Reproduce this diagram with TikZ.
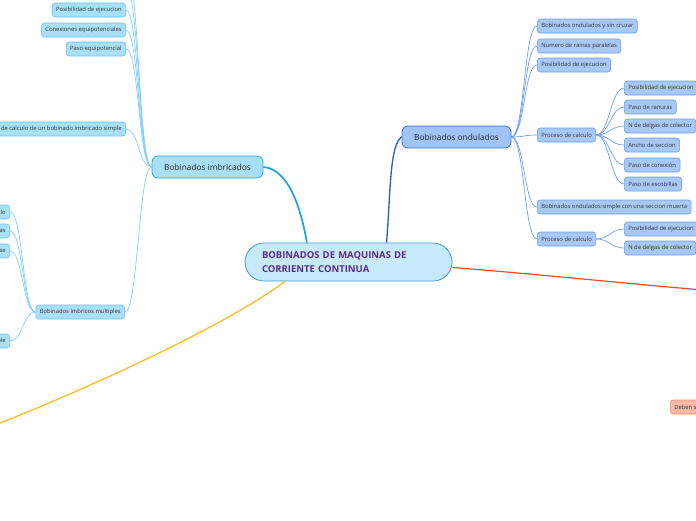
\documentclass[tikz,border=0pt]{standalone}
\usepackage{fontspec}
\setmainfont{Open Sans}
\usepackage{xcolor}
\definecolor{rootFill}{RGB}{198,234,250}
\definecolor{rootDraw}{RGB}{70,150,210}
\definecolor{rootText}{RGB}{92,44,134}
\definecolor{imbFill}{RGB}{169,222,247}
\definecolor{imbDraw}{RGB}{47,168,232}
\definecolor{imbLeaf}{RGB}{168,224,248}
\definecolor{imbLine}{RGB}{130,208,245}
\definecolor{ondFill}{RGB}{160,196,245}
\definecolor{ondDraw}{RGB}{52,117,220}
\definecolor{ondLeaf}{RGB}{168,200,247}
\definecolor{ondLine}{RGB}{110,159,234}
\definecolor{ondMain}{RGB}{30,95,200}
\definecolor{imbMain}{RGB}{28,160,228}
\definecolor{redLine}{RGB}{232,80,30}
\definecolor{yellowLine}{RGB}{253,184,19}
\definecolor{salmonFill}{RGB}{249,185,162}
\definecolor{salmonDraw}{RGB}{238,139,108}

\begin{document}
\begin{tikzpicture}[
    x=1pt, y=-1pt,
    every node/.style={font=\fontsize{5.85}{6.5}\selectfont, text=black!80},
    root/.style={rectangle, draw=rootDraw, fill=rootFill, rounded corners=19pt, line width=0.8pt, minimum width=207pt, minimum height=38pt, text width=173pt, align=left, font=\fontsize{9.5}{14}\selectfont\bfseries, text=rootText},
    topic/.style={rectangle, draw, rounded corners=6pt, line width=0.8pt, minimum height=22pt, font=\fontsize{8.3}{9}\selectfont, text=black!85},
    leaf/.style={rectangle, draw, rounded corners=3pt, line width=0.6pt, minimum height=14pt, inner xsep=4pt, inner ysep=0pt},
    imbleaf/.style={leaf, fill=imbLeaf, draw=imbDraw!70},
    ondleaf/.style={leaf, fill=ondLeaf, draw=ondLine},
    imbline/.style={imbLine, line width=0.7pt},
    ondline/.style={ondLine, line width=0.7pt},
    goL/.style={out=180, in=0, out distance=13pt, in distance=13pt},
    goR/.style={out=0, in=180, out distance=13pt, in distance=13pt}
]
\useasboundingbox (0,0) rectangle (696,520);
\clip (0,0) rectangle (696,520);

% Central topic
\node[root] (root) at (348.5,262) {BOBINADOS DE MAQUINAS DE\\CORRIENTE CONTINUA};

% Main branches
\node[topic, fill=imbFill, draw=imbDraw, minimum width=111pt] (imb) at (207.5,167) {Bobinados imbricados};
\node[topic, fill=ondFill, draw=ondDraw, minimum width=109pt] (ond) at (456.5,137) {Bobinados ondulados};
\coordinate (offR) at (750,294);
\coordinate (offBL) at (-10,427);

\draw[imbMain, line width=1.7pt] (root.155) .. controls +(-6,-35) and +(25,2) .. (imb.east);
\draw[ondMain, line width=1.3pt] (root.27.5) .. controls +(4,-50) and +(-12,8) .. (ond.west);
\draw[redLine, line width=1.2pt] (root.-3.3) .. controls +(100,8) and +(-100,-8) .. (offR);
\draw[yellowLine, line width=1.2pt] (root.-163) .. controls +(-60,45) and +(90,-35) .. (offBL);

% Bobinados ondulados
\node[ondleaf, anchor=west] (o1) at (537,26) {Bobinados ondulados y sin cruzar};
\node[ondleaf, anchor=west] (o2) at (537,46) {Numero de ramas paralelas};
\node[ondleaf, anchor=west] (o3) at (537,65) {Posibilidad de ejecucion};
\node[ondleaf, anchor=west] (proc1) at (537,135) {Proceso de calculo};
\node[ondleaf, anchor=west] (o4) at (537,207) {Bobinados ondulados simple con una seccion muerta};
\node[ondleaf, anchor=west] (proc2) at (537,239) {Proceso de calculo};

\foreach \n in {o1,o2,o3,proc1,o4,proc2}
  \draw[ondline] (ond.east) to[goR] (\n.west);

\node[ondleaf, anchor=west] (p1) at (624,88) {Posibilidad de ejecucion};
\node[ondleaf, anchor=west] (p2) at (624,107) {Paso de ranuras};
\node[ondleaf, anchor=west] (p3) at (624,126) {N de delgas de colector};
\node[ondleaf, anchor=west] (p4) at (624,145) {Ancho de seccion};
\node[ondleaf, anchor=west] (p5) at (624,165) {Paso de conexión};
\node[ondleaf, anchor=west] (p6) at (624,184) {Paso de escobillas};

\foreach \n in {p1,p2,p3,p4,p5,p6}
  \draw[ondline] (proc1.east) to[goR] (\n.west);

\node[ondleaf, anchor=west] (q1) at (624,229) {Posibilidad de ejecucion};
\node[ondleaf, anchor=west] (q2) at (624,248) {N de delgas de colector};

\foreach \n in {q1,q2}
  \draw[ondline] (proc2.east) to[goR] (\n.west);

% Bobinados imbricados
\coordinate (up1) at (126,-12);
\coordinate (up2) at (126,-31);
\node[imbleaf, anchor=east] (i1) at (126,10) {Posibilidad de ejecucion};
\node[imbleaf, anchor=east] (i2) at (126,30) {Conexiones equipotenciales};
\node[imbleaf, anchor=east] (i3) at (126,49) {Paso equipotencial};
\node[imbleaf, anchor=east] (i4) at (126,129) {Proceso de calculo de un bobinado imbricado simple};
\node[imbleaf, anchor=east] (mult) at (125,312) {Bobinados imbricos multiples};

\foreach \n in {up1,up2}
  \draw[imbline] (imb.west) to[goL] (\n);
\foreach \n in {i1,i2,i3,i4,mult}
  \draw[imbline] (imb.west) to[goL] (\n.east);

\node[imbleaf, anchor=east] (m1) at (10,212) {Paso de ciclo};
\node[imbleaf, anchor=east] (m2) at (10,231) {Numero de ramas paralelas};
\node[imbleaf, anchor=east] (m3) at (10,251) {Conexiones de primera clase};
\node[imbleaf, anchor=east] (m4) at (10,341) {Bobinado imbricado multiple};

\foreach \n in {m1,m2,m3,m4}
  \draw[imbline] (mult.west) to[goL] (\n.east);

% Right branch (mostly off the page)
\node[leaf, fill=salmonFill, draw=salmonDraw, anchor=west] (deben) at (670,407) {Deben ser};

\end{tikzpicture}
\end{document}
